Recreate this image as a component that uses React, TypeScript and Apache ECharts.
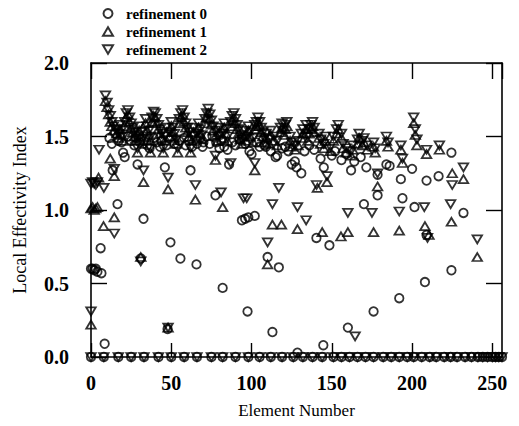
import React, { useEffect, useRef } from 'react';
import * as echarts from 'echarts';

const seriesNames = ['refinement 0', 'refinement 1', 'refinement 2'];

// elements whose index is 0 (bottom row)
const zeroElements = [0, 8, 17, 25, 33, 42, 50, 58, 66, 75, 82, 90, 98, 105, 112, 119, 126, 132, 138, 144, 151, 156, 161, 166, 171, 176, 182, 187, 192, 197, 201, 206, 211, 215, 220, 224, 228, 233, 237, 241, 244, 247, 250, 252, 254, 256];

// refinement 0 (circles)
const ref0Band = [[11.5,1.49],[13,1.45],[15,1.52],[17,1.47],[19,1.46],[20,1.39],[21,1.36],[23,1.50],[25,1.47],[27,1.44],[28,1.49],[30,1.51],[30.5,1.46],[33,1.47],[35,1.44],[36.5,1.42],[39,1.49],[41,1.46],[43,1.43],[44,1.47],[47,1.44],[50,1.50],[52,1.45],[55,1.47],[58,1.49],[59,1.44],[61,1.47],[63,1.43],[66,1.45],[68,1.49],[69.5,1.43],[70,1.46],[72,1.50],[74,1.45],[75.7,1.50],[78,1.46],[80,1.42],[81,1.47],[83,1.43],[85,1.41],[86,1.31],[88,1.46],[90,1.44],[92.5,1.48],[94,1.49],[96,1.45],[98.7,1.40],[100,1.38],[103,1.46],[105,1.43],[108,1.44],[109,1.43],[112,1.40],[115,1.36],[116,1.37],[119,1.42],[121,1.43],[123,1.40],[125,1.31],[127,1.33],[128,1.29],[131,1.25],[133,1.40],[136,1.44],[139,1.41],[143,1.35],[145,1.29],[150,1.37],[152,1.40],[156,1.34],[159,1.38],[162,1.27],[164,1.33],[168,1.36],[171.5,1.29],[178.5,1.24],[184,1.31],[186,1.30],[193,1.21],[200,1.28],[209,1.20],[216.5,1.23],[224.5,1.39]];
const ref0Other = [[0,0.6],[1,0.6],[2,0.59],[3,0.6],[4,0.58],[6,0.74],[6.5,0.57],[8.5,0.09],[13.5,1.27],[16.5,1.04],[29,1.31],[31,0.67],[32.7,0.94],[46,1.29],[47.7,0.19],[49.5,0.78],[55.7,0.67],[62,1.27],[65.7,0.63],[77.5,1.10],[82,0.47],[94,0.93],[96,0.94],[98,0.95],[97.5,0.31],[102,0.96],[110,0.68],[113,0.17],[117,0.61],[128.6,0.03],[140.4,0.81],[144.7,0.08],[148.5,0.76],[160,0.2],[170,1.04],[176,0.31],[178.5,1.10],[192,0.40],[194,1.08],[201.5,1.02],[208,0.51],[209,0.83],[224.5,0.59],[232,0.98]];

// refinement 1 (up triangles)
const ref1Band = [[9,1.74],[10,1.70],[11,1.65],[12,1.60],[13,1.57],[14,1.54],[16,1.52],[17,1.49],[18,1.55],[19,1.51],[20,1.47],[21,1.57],[22,1.63],[23,1.65],[24,1.60],[25,1.56],[26,1.53],[27,1.50],[28,1.47],[30,1.54],[31,1.50],[32,1.45],[34,1.59],[35,1.54],[36,1.51],[37,1.47],[38,1.60],[39,1.64],[40,1.63],[41,1.59],[42,1.55],[43,1.52],[44,1.49],[46,1.47],[47,1.53],[49,1.50],[50,1.57],[51,1.53],[52,1.49],[53,1.45],[55,1.59],[56,1.63],[57,1.65],[58,1.60],[59,1.56],[60,1.53],[61,1.50],[63,1.47],[64,1.53],[66,1.49],[67,1.56],[68,1.52],[69,1.48],[71,1.59],[72,1.63],[73,1.66],[74,1.62],[75,1.58],[76,1.54],[78,1.51],[79,1.47],[80,1.53],[82,1.49],[83,1.56],[84,1.52],[85,1.47],[87,1.57],[88,1.61],[89,1.63],[90,1.59],[91,1.55],[92,1.52],[93,1.48],[94,1.45],[96,1.51],[97,1.47],[98,1.54],[99,1.50],[101,1.46],[102,1.55],[103,1.57],[104,1.60],[105,1.57],[106,1.53],[107,1.50],[108,1.46],[109,1.49],[111,1.45],[112,1.51],[114,1.47],[116,1.44],[118,1.53],[119,1.56],[120,1.51],[121,1.55],[122,1.57],[124,1.47],[125,1.43],[127,1.41],[129,1.44],[131,1.49],[132,1.52],[134,1.55],[135,1.47],[136,1.52],[137,1.55],[138,1.57],[139,1.53],[142,1.49],[143,1.45],[145,1.42],[146,1.47],[149,1.40],[151,1.47],[153,1.52],[154,1.55],[156,1.49],[157,1.42],[159,1.39],[162,1.37],[163,1.41],[166,1.45],[167,1.49],[169,1.44],[170,1.46],[172,1.41],[176,1.43],[177,1.39],[184,1.47],[185,1.43],[193,1.41],[201,1.59],[202,1.51],[203,1.44],[209,1.38],[217,1.41]];
const ref1Other = [[0,0.22],[0,1.01],[1,1.02],[2,1.0],[3,1.01],[4,1.02],[4.7,1.22],[7.8,0.89],[12,1.35],[14.5,1.23],[14.5,0.95],[29,1.39],[32.7,1.19],[31,0.68],[37,1.39],[45,1.39],[48,1.14],[48,0.2],[54,1.39],[62,1.39],[65,1.07],[77.5,1.34],[82,1.02],[102,1.27],[110,0.63],[113,0.9],[118.6,0.9],[128.6,0.87],[141,1.15],[144,0.85],[147,1.19],[155.7,0.82],[160,0.85],[176,0.85],[178.5,1.16],[192,0.86],[194,1.32],[208,0.89],[210.5,0.83],[224.5,0.92],[225,1.25],[232,1.21],[240.6,0.68]];

// refinement 2 (down triangles)
const ref2Band = [[9,1.78],[10,1.73],[11,1.68],[12,1.64],[13,1.60],[14,1.57],[16,1.55],[17,1.52],[18,1.58],[19,1.54],[20,1.50],[21,1.60],[22,1.66],[23,1.68],[24,1.63],[25,1.59],[26,1.56],[27,1.53],[28,1.50],[30,1.57],[31,1.53],[32,1.48],[34,1.62],[35,1.57],[36,1.54],[37,1.50],[38,1.63],[39,1.67],[40,1.66],[41,1.62],[42,1.58],[43,1.55],[44,1.52],[46,1.50],[47,1.56],[49,1.53],[50,1.60],[51,1.56],[52,1.52],[53,1.48],[55,1.62],[56,1.66],[57,1.68],[58,1.63],[59,1.59],[60,1.56],[61,1.53],[63,1.50],[64,1.56],[66,1.52],[67,1.59],[68,1.55],[69,1.51],[71,1.62],[72,1.66],[73,1.69],[74,1.65],[75,1.61],[76,1.57],[78,1.54],[79,1.50],[80,1.56],[82,1.52],[83,1.59],[84,1.55],[85,1.50],[87,1.60],[88,1.64],[89,1.66],[90,1.62],[91,1.58],[92,1.55],[93,1.51],[94,1.48],[96,1.54],[97,1.50],[98,1.57],[99,1.53],[101,1.49],[102,1.58],[103,1.60],[104,1.63],[105,1.60],[106,1.56],[107,1.53],[108,1.49],[109,1.52],[111,1.48],[112,1.54],[114,1.50],[116,1.47],[118,1.56],[119,1.59],[120,1.54],[121,1.58],[122,1.60],[124,1.50],[125,1.46],[127,1.44],[129,1.47],[131,1.52],[132,1.55],[134,1.58],[135,1.50],[136,1.55],[137,1.58],[138,1.60],[139,1.56],[142,1.52],[143,1.48],[145,1.45],[146,1.50],[149,1.43],[151,1.50],[153,1.55],[154,1.58],[156,1.52],[157,1.45],[159,1.42],[162,1.40],[163,1.44],[166,1.48],[167,1.52],[169,1.47],[170,1.49],[172,1.44],[176,1.46],[177,1.42],[184,1.50],[185,1.46],[193,1.44],[201,1.63],[202,1.55],[203,1.48],[209,1.41],[217,1.44]];
const ref2Other = [[0,0.31],[0,1.18],[1,1.19],[2,1.18],[3,1.17],[4,1.19],[5,1.41],[8,1.15],[14.5,1.28],[14.5,0.84],[29,1.42],[32.7,1.27],[31,0.65],[37,1.42],[45,1.42],[48,1.22],[48,0.2],[54,1.42],[62,1.42],[65,1.17],[77.5,1.37],[81,1.12],[87,1.32],[95,1.08],[97,1.08],[102,1.32],[110,0.78],[113,1.04],[117,1.15],[128.6,1.02],[134,0.93],[140.5,1.17],[147,1.23],[160,0.98],[164.5,0.14],[175,0.98],[178.5,1.25],[192,0.99],[194,1.35],[207.6,1.02],[209.6,0.81],[224,1.04],[225,1.17],[232,1.29],[240.6,0.80]];

const SERIF = '"Liberation Serif", "DejaVu Serif", serif';
const UP = 'path://M5,0L10,8.66L0,8.66Z';
const DOWN = 'path://M0,0L10,0L5,8.66Z';

export default function App() {
  const ref = useRef<HTMLDivElement>(null);
  useEffect(() => {
    if (!ref.current) return;
    const chart = echarts.init(ref.current, null, { renderer: 'svg' });
    const zeros = zeroElements.map((x) => [x, 0]);
    const markerStyle = { color: 'rgba(0,0,0,0)', borderColor: '#000', borderWidth: 1.8 };
    const axisLine = { show: true, onZero: false, lineStyle: { color: '#000', width: 1.6 } };
    const tick = (len: number) => ({ show: true, inside: true, length: len, lineStyle: { color: '#000', width: 1.4 } });
    const labelFont = { fontFamily: SERIF, fontSize: 20, fontWeight: 'bold', color: '#000' };
    chart.setOption({
      animation: false,
      backgroundColor: '#fff',
      grid: { left: 91, right: 17, top: 63, bottom: 69 },
      legend: {
        orient: 'vertical',
        left: 97,
        top: 1,
        itemWidth: 10,
        itemHeight: 9,
        itemGap: 3,
        data: seriesNames,
        textStyle: { fontFamily: SERIF, fontSize: 15, fontWeight: 'bold', color: '#000', padding: [0, 0, 0, 8] },
      },
      xAxis: [
        {
          type: 'value', min: 0, max: 256, interval: 50, position: 'bottom',
          axisLine, axisTick: tick(14), splitLine: { show: false },
          axisLabel: { ...labelFont, margin: 16, showMaxLabel: false },
          name: 'Element Number', nameLocation: 'middle', nameGap: 45,
          nameTextStyle: { fontFamily: SERIF, fontSize: 17, color: '#000' },
        },
        {
          type: 'value', min: 0, max: 256, interval: 50, position: 'top',
          axisLine, axisTick: tick(16), splitLine: { show: false }, axisLabel: { show: false },
        },
      ],
      yAxis: [
        {
          type: 'value', min: 0, max: 2, interval: 0.5, position: 'left',
          axisLine, axisTick: tick(16), splitLine: { show: false },
          axisLabel: { ...labelFont, margin: 22, formatter: (v: number) => v.toFixed(1) },
          name: 'Local Effectivity Index', nameLocation: 'middle', nameGap: 62,
          nameTextStyle: { fontFamily: SERIF, fontSize: 18, color: '#000' },
        },
        {
          type: 'value', min: 0, max: 2, interval: 0.5, position: 'right',
          axisLine, axisTick: tick(16), splitLine: { show: false }, axisLabel: { show: false },
        },
      ],
      series: [
        { name: seriesNames[0], type: 'scatter', symbol: 'circle', symbolSize: 8.5, clip: false, itemStyle: markerStyle, data: [...ref0Band, ...ref0Other, ...zeros] },
        { name: seriesNames[1], type: 'scatter', symbol: UP, symbolSize: [9.5, 8], clip: false, itemStyle: markerStyle, data: [...ref1Band, ...ref1Other] },
        { name: seriesNames[2], type: 'scatter', symbol: DOWN, symbolSize: [9.5, 8], clip: false, itemStyle: markerStyle, data: [...ref2Band, ...ref2Other, ...zeros] },
      ],
    });
    return () => chart.dispose();
  }, []);
  return <div ref={ref} style={{ position: 'absolute', left: 0, top: 0, width: 519, height: 426, background: '#fff' }} />;
}
